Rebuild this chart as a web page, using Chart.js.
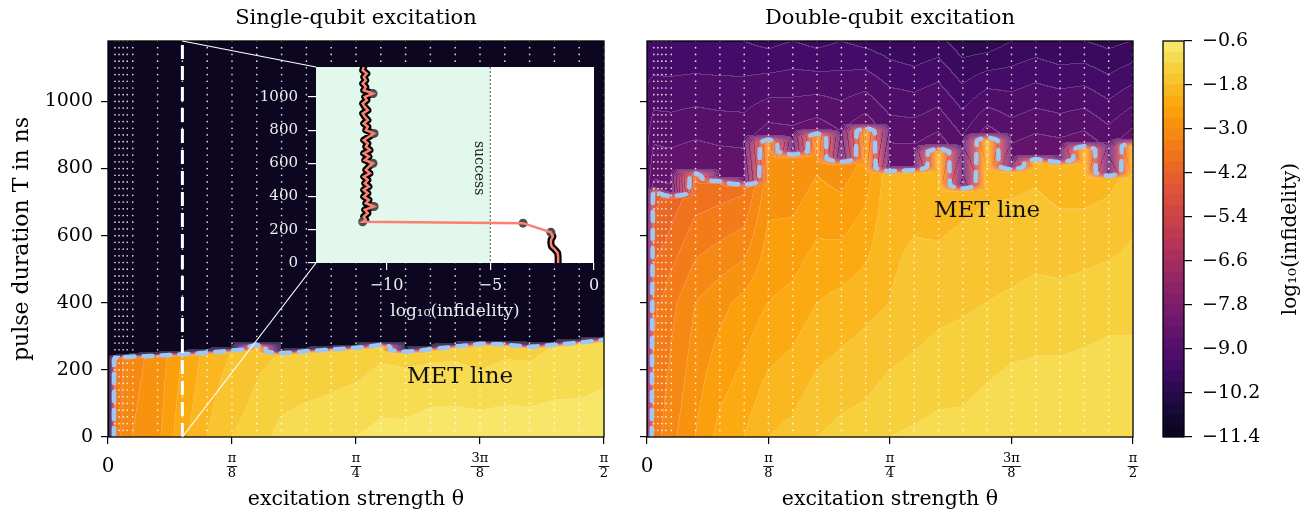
<!DOCTYPE html>
<html>
<head>
<meta charset="utf-8">
<script src="https://cdn.jsdelivr.net/npm/chart.js@4.4.1/dist/chart.umd.min.js"></script>
<style>
  html, body { margin: 0; padding: 0; background: #fff; }
  #fig { position: relative; width: 1303px; height: 514px; overflow: hidden; }
  #fig canvas { position: absolute; left: 0; top: 0; }
</style>
</head>
<body>
<div id="fig">
  <canvas id="leftChart" width="1303" height="514"></canvas>
  <canvas id="rightChart" width="1303" height="514"></canvas>
  <canvas id="cbarChart" width="1303" height="514"></canvas>
  <canvas id="insetChart" width="1303" height="514"></canvas>
</div>
<script>
// ---- data ----
const thetaCols = [0.005, 0.022, 0.035, 0.048, 0.061, 0.0785, 0.1571, 0.2356, 0.3142, 0.3927, 0.4712, 0.5498, 0.6283,
                   0.7069, 0.7854, 0.8639, 0.9425, 1.0210, 1.0996, 1.1781, 1.2566, 1.3352, 1.4137, 1.4923, 1.5708];
const tSamples = [0, 20, 40, 60, 80, 100, 120, 140, 160, 180, 200, 220, 240, 260, 280, 300, 320, 340, 360, 380,
                  400, 420, 440, 460, 480, 500, 520, 540, 560, 580, 600, 620, 640, 660, 680, 700, 720, 740, 760, 780,
                  800, 820, 840, 860, 880, 900, 920, 940, 960, 980, 1000, 1020, 1040, 1060, 1080, 1100, 1120, 1140, 1160, 1180];

// single-qubit excitation: MET line (ns) and log10(infidelity) per column
const singleMetT       = [0, 236, 237, 238, 239, 240, 243, 247, 252, 258, 274, 250, 256, 261, 266, 275, 254, 262, 270, 278, 276, 269, 275, 282, 290];
const singleLowAt0     = [-11.2, -3.6, -3.4, -3.2, -3.1, -3.0, -2.8, -2.2, -1.8, -1.5, -1.35, -1.1, -1.0, -1.0, -0.9, -0.8, -0.8, -0.7, -0.7, -0.7, -0.7, -0.7, -0.7, -0.7, -0.7];
const singleLowAtMet   = [-11.2, -3.7, -3.5, -3.3, -3.2, -3.1, -2.9, -2.4, -2.0, -1.8, -1.6, -1.5, -1.5, -1.4, -1.4, -1.3, -1.3, -1.3, -1.3, -1.4, -1.3, -1.3, -1.2, -1.2, -1.1];
const singleHighAtMet  = [-11.2, -11.15, -11.15, -11.15, -11.15, -11.15, -11.15, -11.15, -11.15, -11.15, -11.15, -11.15, -11.15,
                          -11.15, -11.15, -11.15, -11.15, -11.15, -11.15, -11.15, -11.15, -11.15, -11.15, -11.15, -11.15];
const singleHighAtTop  = [-11.2, -11.2, -11.2, -11.2, -11.2, -11.2, -11.2, -11.2, -11.2, -11.2, -11.2, -11.2, -11.2,
                          -11.2, -11.2, -11.2, -11.2, -11.2, -11.2, -11.2, -11.2, -11.2, -11.2, -11.2, -11.2];

// double-qubit excitation
const doubleMetT       = [0, 732, 730, 724, 720, 718, 786, 762, 752, 887, 842, 905, 820, 921, 792, 795, 860, 740, 893, 797, 828, 818, 867, 778, 877];
const doubleLowAt0     = [-8.0, -3.4, -3.3, -3.3, -3.2, -3.1, -2.7, -2.3, -2.1, -1.8, -1.7, -1.5, -1.4, -1.35, -1.2, -1.15, -1.1, -1.1, -1.0, -0.9, -0.9, -0.9, -0.9, -0.9, -0.9];
const doubleLowAt400   = [-8.0, -3.7, -3.6, -3.6, -3.5, -3.4, -3.0, -2.8, -2.6, -2.4, -2.3, -2.1, -2.0, -1.9, -1.8, -1.7, -1.6, -1.55, -1.5, -1.45, -1.4, -1.4, -1.35, -1.3, -1.3];
const doubleLowAtMet   = [-8.0, -4.3, -4.3, -4.2, -4.2, -4.1, -3.9, -3.8, -3.7, -3.0, -3.0, -2.9, -2.9, -2.8, -1.9, -1.9, -2.1, -1.9, -2.0, -1.9, -1.9, -2.0, -2.1, -1.9, -1.8];
const doubleHighAtMet  = [-7.6, -8.3, -8.3, -8.3, -8.3, -8.3, -8.4, -8.4, -8.4, -8.5, -8.4, -8.5, -8.4, -8.5, -8.4, -8.4, -8.5, -8.4, -8.5, -8.4, -8.4, -8.4, -8.5, -8.4, -8.5];
const doubleHighAtTop  = [-9.5, -9.6, -9.6, -9.6, -9.6, -9.6, -9.6, -9.6, -9.6, -9.7, -9.6, -9.7, -9.6, -9.7, -9.8, -9.9, -9.8, -10.1, -10.1, -9.9, -9.8, -9.9, -9.9, -10.0, -9.9];

// inset: cut through the single-qubit map at theta = 3pi/40
const insetLowT   = [0, 20, 40, 60, 80, 100, 120, 140, 160, 185];
const insetLowLog = [-1.73, -1.73, -1.73, -1.75, -1.88, -2.05, -2.08, -2.07, -1.98, -2.08];
const insetJumpT   = [240];
const insetJumpLog = [-3.42];
const insetHighT   = [248, 260, 280, 300, 320, 340, 360, 380, 400, 420, 440, 460, 480, 500, 520, 540, 560, 580, 600, 620,
                      640, 660, 680, 700, 720, 740, 760, 780, 800, 820, 840, 860, 880, 900, 920, 940, 960, 980, 1000,
                      1020, 1040, 1060, 1080, 1100, 1120, 1140, 1160, 1180];
const insetHighLog = [-11.15, -11.0, -11.1, -10.9, -11.05, -10.6, -11.0, -10.85, -11.1, -10.9, -11.1, -10.85, -11.05, -10.9,
                      -11.1, -10.8, -11.0, -10.85, -10.65, -11.05, -10.85, -11.1, -10.8, -11.0, -10.9, -11.1, -10.85, -10.6,
                      -11.0, -10.9, -11.1, -10.9, -11.05, -11.15, -10.9, -11.05, -11.15, -10.95, -11.05, -10.65, -11.1,
                      -11.0, -11.15, -11.0, -11.1, -10.95, -11.15, -11.1];
const insetMarkerT   = [185, 240, 248, 340, 600, 780, 1020];
const insetMarkerLog = [-2.08, -3.42, -11.15, -10.6, -10.65, -10.6, -10.65];

// ticks
const xTickValues = [0, 0.3927, 0.7854, 1.1781, 1.5708];
const xTickLabels = ['0', ['π', '8'], ['π', '4'], ['3π', '8'], ['π', '2']];
const yTickValues = [0, 200, 400, 600, 800, 1000];
const cbarTicks = [-11.4, -10.2, -9.0, -7.8, -6.6, -5.4, -4.2, -3.0, -1.8, -0.6];
const insetXTicks = [-10, -5, 0];

// ---- constants ----
const T_MAX = 1180, THETA_MAX = 1.5708, MID_T = 400;
const SUCCESS_LOG = -5;
const ZOOM_THETA = 0.2356;
const LEVEL_MIN = -11.4, LEVEL_MAX = -0.6, LEVEL_STEP = 0.3, LEVEL_COUNT = 36;
const CMAP_LO = 0.04, CMAP_HI = 0.95;
const FONT = "'DejaVu Serif', serif";
const MET_BLUE = '#9ec8f3';

const infernoStops = ['#000004', '#160b39', '#420a68', '#6a176e', '#932667', '#bc3754',
                      '#dd513a', '#f37819', '#fca50a', '#f6d746', '#fcffa4'];

function lerp(a, b, t) { return a + (b - a) * t; }
function clamp01(t) { return t < 0 ? 0 : (t > 1 ? 1 : t); }
function hexToRgb(h) { return [1, 3, 5].map(k => parseInt(h.slice(k, k + 2), 16)); }
function inferno(t) {
  const n = infernoStops.length - 1;
  const p = clamp01(t) * n;
  const k = Math.min(Math.floor(p), n - 1);
  const a = hexToRgb(infernoStops[k]), b = hexToRgb(infernoStops[k + 1]);
  return a.map((c, j) => Math.round(lerp(c, b[j], p - k)));
}
const bandRGB = [];
for (let k = 0; k < LEVEL_COUNT; k++) bandRGB.push(inferno(CMAP_LO + (CMAP_HI - CMAP_LO) * (k + 0.5) / LEVEL_COUNT));
const bandCss = bandRGB.map(c => `rgb(${c[0]},${c[1]},${c[2]})`);
function levelIndex(v) {
  const k = Math.floor((v - LEVEL_MIN) / LEVEL_STEP);
  return k < 0 ? 0 : (k >= LEVEL_COUNT ? LEVEL_COUNT - 1 : k);
}

const singleModel = { theta: thetaCols, met: singleMetT, low0: singleLowAt0, lowMid: null, lowMet: singleLowAtMet,
                      hiMet: singleHighAtMet, hiTop: singleHighAtTop, ramp: 6 };
const doubleModel = { theta: thetaCols, met: doubleMetT, low0: doubleLowAt0, lowMid: doubleLowAt400, lowMet: doubleLowAtMet,
                      hiMet: doubleHighAtMet, hiTop: doubleHighAtTop, ramp: 10 };

// value of one sampled column at pulse duration T
function columnValue(m, i, T) {
  const met = m.met[i], r = m.ramp;
  if (met <= 0) return lerp(m.hiMet[i], m.hiTop[i], clamp01(T / T_MAX));
  const low = t => {
    t = Math.max(0, Math.min(t, met));
    if (m.lowMid && met > MID_T) {
      return t <= MID_T ? lerp(m.low0[i], m.lowMid[i], t / MID_T)
                        : lerp(m.lowMid[i], m.lowMet[i], (t - MID_T) / (met - MID_T));
    }
    return lerp(m.low0[i], m.lowMet[i], t / met);
  };
  const high = t => lerp(m.hiMet[i], m.hiTop[i], clamp01((t - met) / (T_MAX - met)));
  if (T <= met - r) return low(T);
  if (T >= met + r) return high(T);
  if (T < met) return lerp(low(met - r), SUCCESS_LOG, (T - met + r) / r);
  return lerp(SUCCESS_LOG, high(met + r), (T - met) / r);
}
function locate(xs, v) {
  const n = xs.length;
  if (v <= xs[0]) return [0, 0];
  if (v >= xs[n - 1]) return [n - 2, 1];
  let i = 0;
  while (xs[i + 1] < v) i++;
  return [i, (v - xs[i]) / (xs[i + 1] - xs[i])];
}
function fieldValue(m, theta, T) {
  const [i, s] = locate(m.theta, theta);
  return lerp(columnValue(m, i, T), columnValue(m, i + 1, T), s);
}

// marching squares for the success contour (the MET line)
function metContour(m) {
  const xs = [];
  for (let i = 0; i < m.theta.length - 1; i++)
    for (let k = 0; k < 8; k++) xs.push(lerp(m.theta[i], m.theta[i + 1], k / 8));
  xs.push(m.theta[m.theta.length - 1]);
  const ys = [];
  for (let T = 0; T <= T_MAX; T += 2) ys.push(T);
  const g = ys.map(T => xs.map(th => fieldValue(m, th, T)));
  const lvl = SUCCESS_LOG, pts = {}, adj = {};
  const edgeH = (i, j) => {
    const k = 'h' + i + '_' + j;
    if (!pts[k]) { const t = (lvl - g[j][i]) / (g[j][i + 1] - g[j][i]); pts[k] = { x: lerp(xs[i], xs[i + 1], t), y: ys[j] }; }
    return k;
  };
  const edgeV = (i, j) => {
    const k = 'v' + i + '_' + j;
    if (!pts[k]) { const t = (lvl - g[j][i]) / (g[j + 1][i] - g[j][i]); pts[k] = { x: xs[i], y: lerp(ys[j], ys[j + 1], t) }; }
    return k;
  };
  const link = (a, b) => { (adj[a] = adj[a] || []).push(b); (adj[b] = adj[b] || []).push(a); };
  for (let j = 0; j < ys.length - 1; j++) {
    for (let i = 0; i < xs.length - 1; i++) {
      const a = g[j][i] > lvl, b = g[j][i + 1] > lvl, c = g[j + 1][i + 1] > lvl, d = g[j + 1][i] > lvl;
      const e = [];
      if (a !== b) e.push(edgeH(i, j));
      if (b !== c) e.push(edgeV(i + 1, j));
      if (d !== c) e.push(edgeH(i, j + 1));
      if (a !== d) e.push(edgeV(i, j));
      if (e.length === 2) link(e[0], e[1]);
      else if (e.length === 4) {
        const mid = (g[j][i] + g[j][i + 1] + g[j + 1][i + 1] + g[j + 1][i]) / 4 > lvl;
        if (mid === a) { link(e[0], e[1]); link(e[2], e[3]); } else { link(e[0], e[3]); link(e[1], e[2]); }
      }
    }
  }
  const keys = Object.keys(adj);
  const starts = keys.filter(k => adj[k].length === 1).concat(keys);
  const used = new Set(), lines = [];
  for (const s of starts) {
    if (used.has(s)) continue;
    const line = [];
    let cur = s, prev = null;
    while (cur && !used.has(cur)) {
      used.add(cur);
      line.push(pts[cur]);
      const nxt = adj[cur].find(n => n !== prev && !used.has(n));
      prev = cur;
      cur = nxt;
    }
    if (line.length > 1) lines.push(line);
  }
  return lines;
}

// ---- plugins ----
function heatmapPlugin(model) {
  return {
    id: 'heatmap',
    beforeDatasetsDraw(chart) {
      const { ctx, chartArea: a, scales: { x, y } } = chart;
      const left = Math.round(a.left), top = Math.round(a.top);
      const w = Math.round(a.right) - left, h = Math.round(a.bottom) - top;
      const off = document.createElement('canvas');
      off.width = w; off.height = h;
      const octx = off.getContext('2d');
      const img = octx.createImageData(w, h);
      const band = new Int16Array(w * h);
      const loc = [], tt = [];
      for (let i = 0; i < w; i++) loc.push(locate(model.theta, x.getValueForPixel(left + i + 0.5)));
      for (let j = 0; j < h; j++) tt.push(y.getValueForPixel(top + j + 0.5));
      for (let j = 0; j < h; j++) {
        for (let i = 0; i < w; i++) {
          const [c, s] = loc[i];
          band[j * w + i] = levelIndex(lerp(columnValue(model, c, tt[j]), columnValue(model, c + 1, tt[j]), s));
        }
      }
      for (let j = 0; j < h; j++) {
        for (let i = 0; i < w; i++) {
          const k = j * w + i, b = band[k], col = bandRGB[b];
          const edge = (i < w - 1 && band[k + 1] !== b) || (j < h - 1 && band[k + w] !== b);
          const mix = edge ? 0.2 : 0;
          img.data[4 * k] = col[0] + (255 - col[0]) * mix;
          img.data[4 * k + 1] = col[1] + (255 - col[1]) * mix;
          img.data[4 * k + 2] = col[2] + (255 - col[2]) * mix;
          img.data[4 * k + 3] = 255;
        }
      }
      octx.putImageData(img, 0, 0);
      ctx.drawImage(off, left, top);
    }
  };
}

const framePlugin = {
  id: 'frame',
  afterDatasetsDraw(chart) {
    const { ctx, chartArea: a } = chart;
    ctx.save();
    ctx.strokeStyle = '#000';
    ctx.lineWidth = 1.3;
    ctx.strokeRect(a.left, a.top, a.right - a.left, a.bottom - a.top);
    ctx.restore();
  }
};

const fractionBarPlugin = {
  id: 'fractionBars',
  afterDraw(chart) {
    const s = chart.scales.x, ctx = chart.ctx;
    ctx.save();
    ctx.strokeStyle = '#000';
    ctx.lineWidth = 0.9;
    ctx.font = `13px ${FONT}`;
    xTickValues.forEach((v, i) => {
      const lab = xTickLabels[i];
      if (!Array.isArray(lab)) return;
      const w = Math.max(ctx.measureText(lab[0]).width, ctx.measureText(lab[1]).width) + 2;
      const px = s.getPixelForValue(v);
      const py = s.top + 7 + 15 + 7.5;
      ctx.beginPath();
      ctx.moveTo(px - w / 2, py);
      ctx.lineTo(px + w / 2, py);
      ctx.stroke();
    });
    ctx.restore();
  }
};

const textPlugin = {
  id: 'texts',
  afterDatasetsDraw(chart, args, opts) {
    const { ctx, scales: { x, y } } = chart;
    (opts.items || []).forEach(it => {
      ctx.save();
      ctx.translate(x.getPixelForValue(it.x), y.getPixelForValue(it.y));
      if (it.rotate) ctx.rotate(it.rotate);
      ctx.font = it.font;
      ctx.fillStyle = it.color;
      ctx.textAlign = 'center';
      ctx.textBaseline = 'middle';
      ctx.fillText(it.text, 0, 0);
      ctx.restore();
    });
  }
};

// sample markers (the edge column at theta ~ 0 carries no marker in the figure)
function gridPoints() {
  const pts = [];
  thetaCols.slice(1).forEach(th => tSamples.forEach(T => pts.push({ x: th, y: T })));
  return pts;
}

function panelOptions(title, showYLabels, padding, label) {
  return {
    responsive: false,
    animation: false,
    devicePixelRatio: 1,
    layout: { padding },
    plugins: {
      legend: { display: false },
      tooltip: { enabled: false },
      title: {
        display: true, text: title, fullSize: false, color: '#000',
        font: { family: FONT, size: 21, weight: 'normal', lineHeight: 1.2 },
        padding: { top: 6, bottom: 9.8 }
      },
      texts: { items: [label] }
    },
    scales: {
      x: {
        type: 'linear', min: 0, max: THETA_MAX,
        afterFit: s => { s.height = 77; },
        afterBuildTicks: s => { s.ticks = xTickValues.map(v => ({ value: v })); },
        border: { display: false },
        grid: { drawOnChartArea: false, drawTicks: true, tickLength: 7, color: '#000', lineWidth: 1.2 },
        ticks: {
          autoSkip: false, maxRotation: 0, padding: 15, crossAlign: 'center', color: '#000',
          font: c => c.index === 0 ? { family: FONT, size: 20, lineHeight: 0.75 } : { family: FONT, size: 13, lineHeight: 1.15 },
          callback: (v, i) => xTickLabels[i]
        },
        title: {
          display: true, text: 'excitation strength θ', color: '#000',
          font: { family: FONT, size: 20.5, lineHeight: 1.2 }, padding: { top: 0, bottom: 2 }
        }
      },
      y: {
        type: 'linear', min: 0, max: T_MAX,
        afterFit: s => { s.width = showYLabels ? 108 : 10; },
        afterBuildTicks: s => { s.ticks = yTickValues.map(v => ({ value: v })); },
        border: { display: false },
        grid: { drawOnChartArea: false, drawTicks: true, tickLength: 7, color: '#000', lineWidth: 1.2 },
        ticks: { display: showYLabels, padding: 8, color: '#000', font: { family: FONT, size: 19 },
                 callback: v => String(v) },
        title: {
          display: showYLabels, text: 'pulse duration T in ns', color: '#000',
          font: { family: FONT, size: 22, lineHeight: 1.2 }, padding: { top: 9, bottom: 0 }
        }
      }
    }
  };
}

function metDatasets(model) {
  return metContour(model).map(line => ({
    data: line, showLine: true, borderColor: MET_BLUE, borderWidth: 4.5, borderDash: [9, 9],
    borderCapStyle: 'round', pointRadius: 0, order: 1, clip: 0
  }));
}
const dotDataset = () => ({
  data: gridPoints(), pointRadius: 0.85, pointBackgroundColor: 'rgba(255,255,255,0.85)',
  pointBorderWidth: 0, order: 3, clip: 0
});

// ---- left panel ----
const leftChart = new Chart(document.getElementById('leftChart'), {
  type: 'scatter',
  data: {
    datasets: [
      { data: [{ x: ZOOM_THETA, y: 0 }, { x: ZOOM_THETA, y: T_MAX }], showLine: true, borderColor: '#ffffff',
        borderWidth: 3, borderDash: [14, 7], pointRadius: 0, order: 0, clip: 0 },
      ...metDatasets(singleModel),
      dotDataset()
    ]
  },
  options: panelOptions('Single-qubit excitation', true, { left: 0, right: 699, top: 0, bottom: 0 },
    { x: 1.115, y: 179, text: 'MET line', font: `23px ${FONT}`, color: '#111' }),
  plugins: [heatmapPlugin(singleModel), framePlugin, fractionBarPlugin, textPlugin]
});

// ---- right panel ----
const rightChart = new Chart(document.getElementById('rightChart'), {
  type: 'scatter',
  data: { datasets: [...metDatasets(doubleModel), dotDataset()] },
  options: panelOptions('Double-qubit excitation', false, { left: 637, right: 170, top: 0, bottom: 0 },
    { x: 1.099, y: 672, text: 'MET line', font: `23px ${FONT}`, color: '#111' }),
  plugins: [heatmapPlugin(doubleModel), framePlugin, fractionBarPlugin, textPlugin]
});

// ---- colour bar ----
const cbarLevels = [];
for (let k = 0; k < LEVEL_COUNT; k++) cbarLevels.push([LEVEL_MIN + k * LEVEL_STEP, LEVEL_MIN + (k + 1) * LEVEL_STEP]);
const cbarChart = new Chart(document.getElementById('cbarChart'), {
  type: 'bar',
  data: {
    labels: ['log10'],
    datasets: cbarLevels.map((lv, k) => ({
      data: [lv], backgroundColor: bandCss[k], borderWidth: 0,
      barPercentage: 1, categoryPercentage: 1, grouped: false
    }))
  },
  options: {
    responsive: false, animation: false, devicePixelRatio: 1,
    layout: { padding: { left: 1163, right: 0, top: 41, bottom: 77 } },
    plugins: { legend: { display: false }, tooltip: { enabled: false } },
    scales: {
      x: { display: false },
      y: {
        position: 'right', min: LEVEL_MIN, max: LEVEL_MAX,
        afterFit: s => { s.width = 119; },
        afterBuildTicks: s => { s.ticks = cbarTicks.map(v => ({ value: v })); },
        border: { display: false },
        grid: { drawOnChartArea: false, drawTicks: true, tickLength: 8, color: '#000', lineWidth: 1.2 },
        ticks: { padding: 10, color: '#000', font: { family: FONT, size: 19 },
                 callback: v => v.toFixed(1).replace('-', '−') }
      }
    }
  },
  plugins: [framePlugin, {
    id: 'cbarLabel',
    afterDraw(chart) {
      const { ctx, chartArea: a } = chart;
      ctx.save();
      ctx.translate(a.right + 107, (a.top + a.bottom) / 2);
      ctx.rotate(-Math.PI / 2);
      ctx.font = `20px ${FONT}`;
      ctx.fillStyle = '#000';
      ctx.textAlign = 'center';
      ctx.textBaseline = 'middle';
      ctx.fillText('log₁₀(infidelity)', 0, 0);
      ctx.restore();
    }
  }]
});

// ---- inset ----
const toPts = (ts, vs) => ts.map((t, i) => ({ x: vs[i], y: t }));
const insetPathT = insetLowT.concat(insetJumpT, insetHighT);
const insetPathLog = insetLowLog.concat(insetJumpLog, insetHighLog);
const insetChart = new Chart(document.getElementById('insetChart'), {
  type: 'scatter',
  data: {
    datasets: [
      { data: toPts(insetPathT, insetPathLog), showLine: true, borderColor: '#fa8072', borderWidth: 2.5,
        pointRadius: 0, order: 0, clip: 0 },
      { data: toPts(insetMarkerT, insetMarkerLog), pointRadius: 4.5, pointBackgroundColor: '#4d4d4d',
        pointBorderWidth: 0, order: 1, clip: 0 },
      { data: toPts(insetLowT, insetLowLog), showLine: true, borderColor: '#000', borderWidth: 7,
        borderJoinStyle: 'round', borderCapStyle: 'round', pointRadius: 0, order: 2, clip: 0 },
      { data: toPts(insetHighT, insetHighLog), showLine: true, borderColor: '#000', borderWidth: 7,
        borderJoinStyle: 'round', borderCapStyle: 'round', pointRadius: 0, order: 2, clip: 0 }
    ]
  },
  options: {
    responsive: false, animation: false, devicePixelRatio: 1,
    layout: { padding: { left: 256, right: 709, top: 67, bottom: 189 } },
    plugins: {
      legend: { display: false }, tooltip: { enabled: false },
      texts: { items: [{ x: -5.55, y: 571, text: 'success', font: `14px ${FONT}`, color: '#222', rotate: Math.PI / 2 }] }
    },
    scales: {
      x: {
        type: 'linear', min: -13.4, max: 0,
        afterFit: s => { s.height = 62; },
        afterBuildTicks: s => { s.ticks = insetXTicks.map(v => ({ value: v })); },
        border: { display: false },
        grid: { drawOnChartArea: false, drawTicks: true, tickLength: 7, color: '#fff', lineWidth: 1.2 },
        ticks: { padding: 6, color: '#eeeeee', font: { family: FONT, size: 16 },
                 callback: v => String(v).replace('-', '−') },
        title: { display: true, text: 'log₁₀(infidelity)', color: '#eeeeee',
                 font: { family: FONT, size: 17, lineHeight: 1.2 }, padding: { top: 0, bottom: 3 } }
      },
      y: {
        type: 'linear', min: 0, max: T_MAX,
        afterFit: s => { s.width = 60; },
        afterBuildTicks: s => { s.ticks = yTickValues.map(v => ({ value: v })); },
        border: { display: false },
        grid: { drawOnChartArea: false, drawTicks: true, tickLength: 8, color: '#fff', lineWidth: 1.2 },
        ticks: { padding: 10, color: '#eeeeee', font: { family: FONT, size: 15 }, callback: v => String(v) }
      }
    }
  },
  plugins: [{
    id: 'insetBackdrop',
    beforeDraw(chart) {
      const { ctx, chartArea: a } = chart;
      const lx = leftChart.scales.x.getPixelForValue(ZOOM_THETA);
      const ty = leftChart.scales.y.getPixelForValue(T_MAX);
      const by = leftChart.scales.y.getPixelForValue(0);
      ctx.save();
      ctx.strokeStyle = '#ffffff';
      ctx.lineWidth = 1.2;
      ctx.beginPath();
      ctx.moveTo(lx, ty); ctx.lineTo(a.left, a.top);
      ctx.moveTo(lx, by); ctx.lineTo(a.left, a.bottom);
      ctx.stroke();
      ctx.restore();
    },
    beforeDatasetsDraw(chart) {
      const { ctx, chartArea: a, scales: { x } } = chart;
      const sx = x.getPixelForValue(SUCCESS_LOG);
      ctx.save();
      ctx.fillStyle = '#ffffff';
      ctx.fillRect(a.left, a.top, a.right - a.left, a.bottom - a.top);
      ctx.fillStyle = '#e2f8ec';
      ctx.fillRect(a.left, a.top, sx - a.left, a.bottom - a.top);
      ctx.strokeStyle = '#555';
      ctx.lineWidth = 1;
      ctx.setLineDash([2, 2]);
      ctx.beginPath();
      ctx.moveTo(sx, a.top); ctx.lineTo(sx, a.bottom);
      ctx.stroke();
      ctx.restore();
    }
  }, textPlugin]
});
</script>
</body>
</html>
